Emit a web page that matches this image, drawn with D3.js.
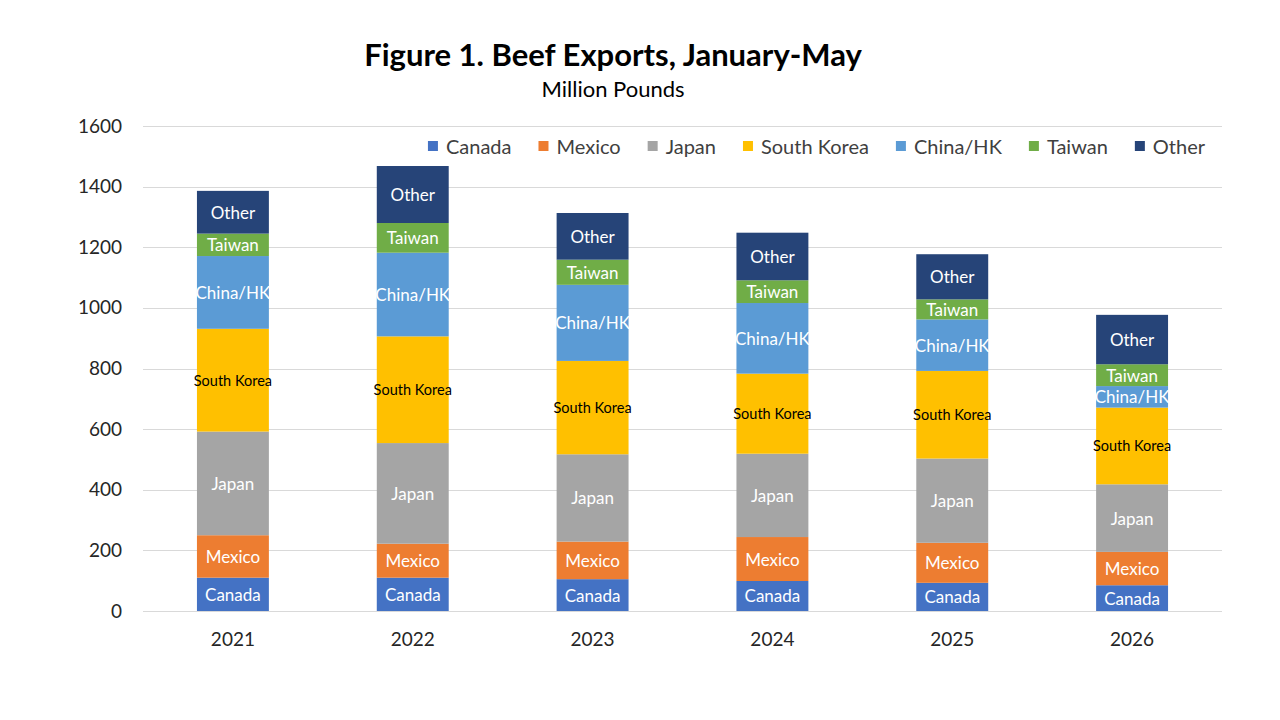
<!DOCTYPE html>
<html><head><meta charset="utf-8">
<script src="https://cdn.jsdelivr.net/npm/d3@7"></script>
<style>
html,body{margin:0;padding:0;background:#fff;}
svg{display:block;font-family:Lato,"Noto Sans",sans-serif;}
</style></head>
<body><svg id="c" width="1280" height="720"></svg>
<script>
const years = ["2021","2022","2023","2024","2025","2026"];
const seriesNames = ["Canada","Mexico","Japan","South Korea","China/HK","Taiwan","Other"];
const canada     = [110, 110, 105,  99,  93,  85];
const mexico     = [140, 112, 124, 145, 132, 110];
const japan      = [342, 332, 288, 275, 278, 223];
const southKorea = [339, 352, 308, 264, 289, 253];
const chinaHK    = [240, 276, 251, 233, 170,  71];
const taiwan     = [ 74,  98,  83,  75,  66,  72];
const other      = [141, 188, 154, 157, 149, 163];
const yTicks = [0,200,400,600,800,1000,1200,1400,1600];
const colors = ["#4472C4","#ED7D31","#A5A5A5","#FFC000","#5B9BD5","#70AD47","#264478"];
const labelColors = ["#fff","#fff","#fff","#000","#fff","#fff","#fff"];

const seriesVals = [canada, mexico, japan, southKorea, chinaHK, taiwan, other];
const rows = years.map((y,i)=>{const r={year:y}; seriesNames.forEach((s,k)=>r[s]=seriesVals[k][i]); return r;});
const stack = d3.stack().keys(seriesNames)(rows);

const svg = d3.select("#c");
const pLeft=143, pRight=1222, pTop=126, pBottom=611;
const x = d3.scaleBand().domain(years).range([pLeft,pRight]).paddingInner(0.6).paddingOuter(0.3);
const y = d3.scaleLinear().domain([0,1600]).range([pBottom,pTop]);

// gridlines
svg.append("g").selectAll("line").data(yTicks).join("line")
  .attr("x1",pLeft).attr("x2",pRight)
  .attr("y1",d=>Math.round(y(d))+0.5).attr("y2",d=>Math.round(y(d))+0.5)
  .attr("stroke","#d9d9d9").attr("stroke-width",1);

// y axis labels
const yAxis = svg.append("g").attr("transform",`translate(${pLeft-21},0)`)
  .call(d3.axisLeft(y).tickValues(yTicks).tickFormat(d3.format("d")).tickSize(0).tickPadding(0));
yAxis.select(".domain").remove();
yAxis.selectAll("text").attr("font-size",19).attr("fill","#262626").attr("font-family","Lato,'Noto Sans',sans-serif");

// x axis labels
const xAxis = svg.append("g").attr("transform",`translate(0,${pBottom+21})`)
  .call(d3.axisBottom(x).tickSize(0).tickPadding(0));
xAxis.select(".domain").remove();
xAxis.selectAll("text").attr("font-size",19).attr("fill","#262626").attr("dy","0.71em").attr("font-family","Lato,'Noto Sans',sans-serif");

// bars
const g = svg.append("g");
stack.forEach((layer,k)=>{
  const lg = g.append("g");
  lg.selectAll("rect").data(layer).join("rect")
    .attr("x",d=>x(d.data.year)).attr("width",x.bandwidth())
    .attr("y",d=>y(d[1])).attr("height",d=>y(d[0])-y(d[1]))
    .attr("fill",colors[k]);
});
stack.forEach((layer,k)=>{
  g.append("g").selectAll("text").data(layer).join("text")
    .attr("x",d=>x(d.data.year)+x.bandwidth()/2)
    .attr("y",d=>(y(d[0])+y(d[1]))/2)
    .attr("text-anchor","middle").attr("dominant-baseline","central")
    .attr("font-size",k===3?14.5:17)
    .attr("fill",labelColors[k])
    .text(seriesNames[k]);
});

// title
svg.append("text").attr("x",613).attr("y",66).attr("text-anchor","middle")
  .attr("font-size",31).attr("font-weight","bold").attr("fill","#000")
  .text("Figure 1. Beef Exports, January-May");
svg.append("text").attr("x",613).attr("y",97).attr("text-anchor","middle")
  .attr("font-size",22).attr("fill","#000").text("Million Pounds");

// legend
const leg = svg.append("g");
const items = leg.selectAll("g").data(seriesNames).join("g");
items.append("rect").attr("width",10).attr("height",10).attr("y",-5).attr("fill",(d,i)=>colors[i]);
items.append("text").attr("x",18).attr("dominant-baseline","central").attr("font-size",20).attr("fill","#404040").text(d=>d);
let cx=0;
items.each(function(){
  const w = d3.select(this).select("text").node().getComputedTextLength();
  d3.select(this).attr("transform",`translate(${cx},0)`);
  cx += 18 + w + 27;
});
const total = cx - 27;
leg.attr("transform",`translate(${1205-total},146)`);
</script></body></html>
